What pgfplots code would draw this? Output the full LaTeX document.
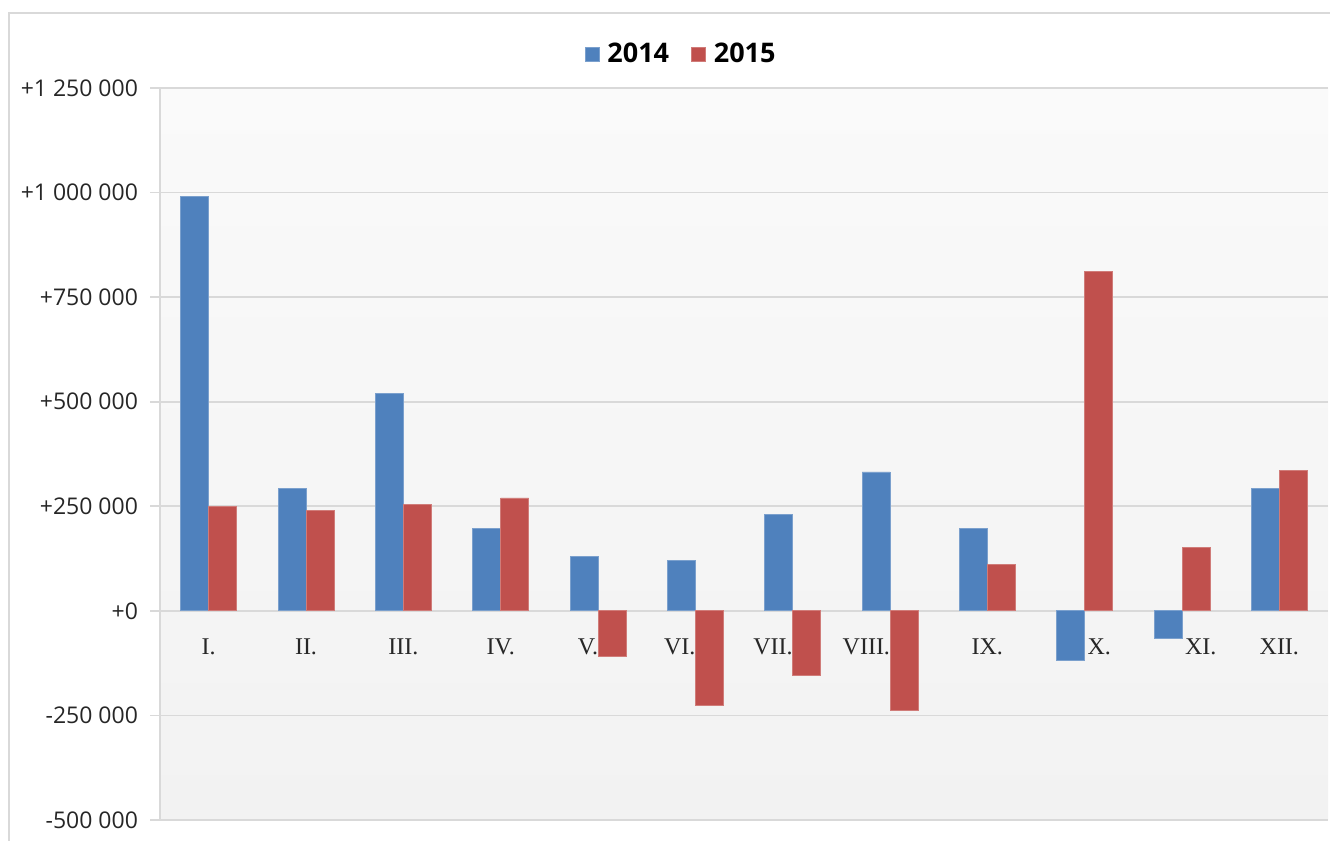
\documentclass[border=0pt]{standalone}
\usepackage{fontspec}
\setmainfont{Open Sans}
\newfontfamily\catfont{Liberation Serif}
\usepackage{pgfplots}
\pgfplotsset{compat=1.18}
\definecolor{bblue}{HTML}{4F81BD}
\definecolor{bred}{HTML}{C0504D}
\definecolor{gridc}{HTML}{D9D9D9}
\definecolor{framec}{HTML}{D9D9D9}
\newcommand{\rlab}[1]{\makebox[0pt][r]{#1}}
\newcommand{\llab}[1]{\makebox[0pt][l]{\hspace{1.5pt}#1}}
\begin{document}
\begin{tikzpicture}
\path[use as bounding box] (0,0) rectangle (665pt,420.5pt);
\draw[framec, line width=1.3pt] (4.5pt,-2pt) -- (4.5pt,414pt) -- (667pt,414pt);
\begin{axis}[
  at={(80pt,10.5pt)}, anchor=south west,
  scale only axis, width=584pt, height=366pt,
  ybar, bar width=14pt, ybar=0pt,
  xmin=0.5, xmax=12.5, ymin=-500000, ymax=1250000,
  axis x line=middle, axis y line=left,
  axis line style={gridc, line width=0.8pt, -},
  axis background/.style={top color={rgb,255:red,250;green,250;blue,250}, bottom color={rgb,255:red,242;green,242;blue,242}},
  xtick={1,...,12},
  xticklabels={I.,II.,III.,IV.,\rlab{V.},\rlab{VI.},\rlab{VII.},\rlab{VIII.},IX.,\llab{X.},\llab{XI.},XII.},
  xticklabel style={font=\catfont\fontsize{12}{14}\selectfont, text=black!85, yshift=-5.5pt},
  minor xtick={0.5,1.5,...,12.5},
  xtick style={draw=none},
  minor x tick style={gridc, line width=0.8pt},
  minor tick length=4pt,
  ytick={-500000,-250000,0,250000,500000,750000,1000000,1250000},
  yticklabels={-500 000,-250 000,+0,+250 000,+500 000,+750 000,+1 000 000,+1 250 000},
  yticklabel style={font=\fontsize{11.5}{13}\selectfont, text=black!85, xshift=-2.5pt},
  ytick style={gridc, line width=0.8pt},
  major tick length=5pt,
  tick align=outside,
  ymajorgrids, major grid style={gridc, line width=0.8pt},
  scaled y ticks=false,
  legend style={at={(0.447,1.046)}, anchor=center, draw=none, fill=none,
    legend columns=2, font=\bfseries\fontsize{13.5}{15}\selectfont,
    /tikz/every odd column/.append style={column sep=2pt},
    /tikz/every even column/.append style={column sep=9pt}},
  legend image code/.code={\fill[#1] (0pt,-3.5pt) rectangle (7pt,3.5pt);},
  clip=false,
]
\addplot[fill=bblue, draw=bblue!75!white, line width=0.4pt] coordinates {
(1,990000) (2,292000) (3,519000) (4,196000) (5,129000) (6,120000)
(7,230000) (8,332000) (9,196000) (10,-118000) (11,-66000) (12,292000)};
\addplot[fill=bred, draw=bred!75!white, line width=0.4pt] coordinates {
(1,249000) (2,241000) (3,254000) (4,270000) (5,-110000) (6,-227000)
(7,-155000) (8,-239000) (9,112000) (10,811000) (11,151000) (12,335000)};
\legend{2014,2015}
\end{axis}
\end{tikzpicture}
\end{document}
